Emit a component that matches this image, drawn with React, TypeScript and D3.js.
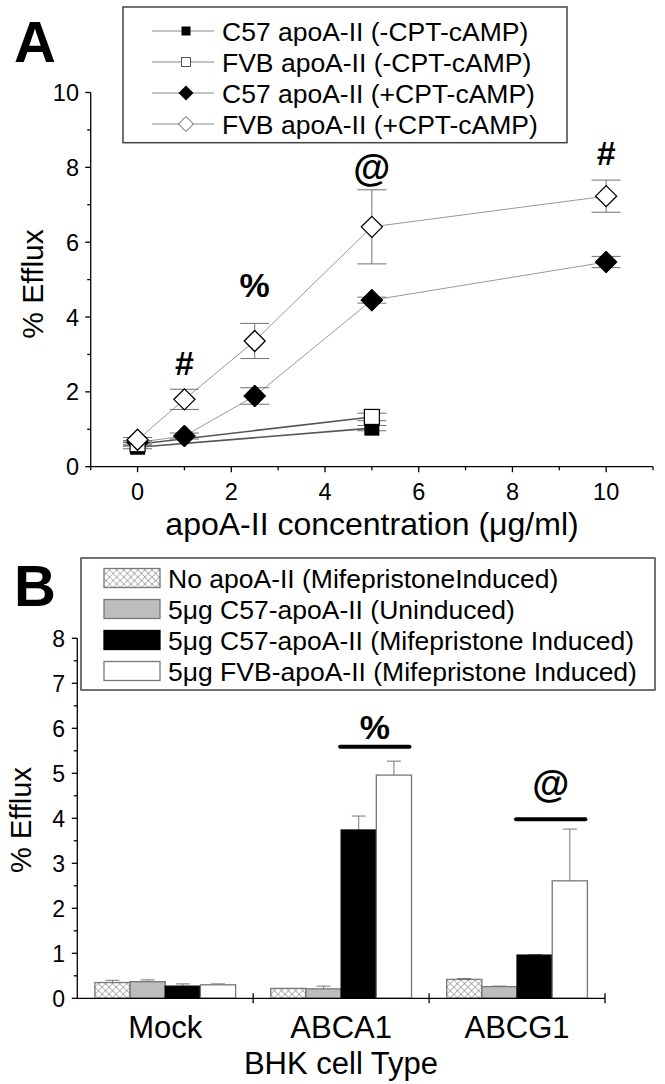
import React, { useEffect } from "react";
import * as d3 from "d3";

// ---------- Panel A data ----------
const concPlus = [0, 1, 2.5, 5, 10];
const c57PlusMean = [0.65, 0.82, 1.89, 4.45, 5.47];
const c57PlusErr = [0.05, 0.08, 0.22, 0.08, 0.15];
const fvbPlusMean = [0.72, 1.8, 3.36, 6.41, 7.23];
const fvbPlusErr = [0.06, 0.27, 0.47, 0.99, 0.43];
const concMinus = [0, 5];
const c57MinusMean = [0.52, 1.03];
const c57MinusErr = [0.04, 0.07];
const fvbMinusMean = [0.6, 1.33];
const fvbMinusErr = [0.05, 0.1];
const legendA = [
  "C57 apoA-II (-CPT-cAMP)",
  "FVB apoA-II (-CPT-cAMP)",
  "C57 apoA-II (+CPT-cAMP)",
  "FVB apoA-II (+CPT-cAMP)",
];
const annotA = ["#", "%", "@", "#"];
const annotAX = [1, 2.5, 5, 10];
const annotAY = [2.77, 4.85, 8.0, 8.4];
const xTicksA = [0, 2, 4, 6, 8, 10];
const yTicksA = [0, 2, 4, 6, 8, 10];

// ---------- Panel B data ----------
const cellTypes = ["Mock", "ABCA1", "ABCG1"];
const seriesB = [
  "No apoA-II (MifepristoneInduced)",
  "5\u03bcg C57-apoA-II (Uninduced)",
  "5\u03bcg C57-apoA-II (Mifepristone Induced)",
  "5\u03bcg FVB-apoA-II (Mifepristone Induced)",
];
const noApoMean = [0.35, 0.22, 0.42];
const noApoErr = [0.05, 0.0, 0.02];
const c57UninMean = [0.37, 0.21, 0.26];
const c57UninErr = [0.04, 0.06, 0.01];
const c57IndMean = [0.27, 3.74, 0.96];
const c57IndErr = [0.05, 0.31, 0.01];
const fvbIndMean = [0.3, 4.96, 2.61];
const fvbIndErr = [0.02, 0.31, 1.15];
const sigCells = ["ABCA1", "ABCG1"];
const sigLabels = ["%", "@"];
const sigLevel = [5.59, 3.98];
const yTicksB = [0, 1, 2, 3, 4, 5, 6, 7, 8];

const FONT = "'Liberation Sans', Arial, Helvetica, sans-serif";

export default function App() {
  useEffect(() => {
    document.body.style.margin = "0";
  }, []);

  // ----- scales A -----
  const xA = d3.scaleLinear().domain([-1, 11]).range([90.7, 653]);
  const yA = d3.scaleLinear().domain([0, 10]).range([466.7, 92.5]);
  const line = d3
    .line<[number, number]>()
    .x((d) => xA(d[0]))
    .y((d) => yA(d[1]));

  const pts = (xs: number[], ys: number[]) =>
    xs.map((x, i) => [x, ys[i]] as [number, number]);

  const diamond = (cx: number, cy: number, r: number) =>
    `M${cx},${cy - r}L${cx + r},${cy}L${cx},${cy + r}L${cx - r},${cy}Z`;

  const errA = (xs: number[], ys: number[], es: number[], key: string) =>
    xs.map((x, i) => {
      const px = xA(x);
      const t = yA(ys[i] + es[i]);
      const b = yA(ys[i] - es[i]);
      return (
        <g key={key + i} stroke="#707070" strokeWidth={1}>
          <line x1={px} x2={px} y1={t} y2={b} />
          <line x1={px - 14.5} x2={px + 14.5} y1={t} y2={t} />
          <line x1={px - 14.5} x2={px + 14.5} y1={b} y2={b} />
        </g>
      );
    });

  // ----- scales B -----
  const xB = d3.scaleBand<string>().domain(cellTypes).range([77.3, 605]).paddingInner(0).paddingOuter(0);
  const xInner = d3
    .scaleBand<string>()
    .domain(seriesB)
    .range([0, xB.bandwidth()])
    .paddingInner(0)
    .paddingOuter(0.5);
  const yB = d3.scaleLinear().domain([0, 8]).range([998.3, 638.3]);
  const meansB = [noApoMean, c57UninMean, c57IndMean, fvbIndMean];
  const errsB = [noApoErr, c57UninErr, c57IndErr, fvbIndErr];
  const fillsB = ["url(#hatch)", "#bdbdbd", "#000", "#fff"];
  const strokesB = ["#777", "#777", "#000", "#777"];

  return (
    <div style={{ position: "absolute", left: 0, top: 0 }}>
      <svg width={665} height={1084} style={{ display: "block", background: "#fff" }} fontFamily={FONT}>
        <defs>
          <pattern id="hatch" width="5" height="5" patternUnits="userSpaceOnUse" patternTransform="rotate(45)">
            <rect width="5" height="5" fill="#fff" />
            <line x1="0" y1="0" x2="5" y2="0" stroke="#666" strokeWidth="0.9" />
            <line x1="0" y1="0" x2="0" y2="5" stroke="#666" strokeWidth="0.9" />
          </pattern>
        </defs>
        <rect width={665} height={1084} fill="#fff" />

        {/* ================= PANEL A ================= */}
        <text x={14} y={62} fontSize={58} fontWeight="bold">A</text>

        {/* axes */}
        <g stroke="#000" strokeWidth={1.3} fill="none">
          <line x1={xA(-1)} x2={xA(11)} y1={yA(0)} y2={yA(0)} />
          <line x1={xA(-1)} x2={xA(-1)} y1={yA(0)} y2={yA(10)} />
          {xA.ticks(12).map((t) => (
            <line key={"xa" + t} x1={xA(t)} x2={xA(t)} y1={yA(0)} y2={yA(0) + (t % 2 === 0 ? 5.5 : 3.5)} />
          ))}
          {yA.ticks(10).map((t) => (
            <line key={"ya" + t} x1={xA(-1)} x2={xA(-1) - (t % 2 === 0 ? 5.5 : 3.5)} y1={yA(t)} y2={yA(t)} />
          ))}
        </g>
        <g fontSize={23.5} fill="#000">
          {xTicksA.map((t) => (
            <text key={"xl" + t} x={xA(t)} y={500} textAnchor="middle">{t}</text>
          ))}
          {yTicksA.map((t) => (
            <text key={"yl" + t} x={79} y={yA(t) + 8.5} textAnchor="end">{t}</text>
          ))}
        </g>
        <text x={372} y={535} fontSize={32} textAnchor="middle">
          apoA-II concentration ({"\u03bc"}g/ml)
        </text>
        <text transform="translate(43,284) rotate(-90)" fontSize={30} textAnchor="middle">% Efflux</text>

        {/* lines */}
        <path d={line(pts(concPlus, fvbPlusMean)) || ""} fill="none" stroke="#999" strokeWidth={1} />
        <path d={line(pts(concPlus, c57PlusMean)) || ""} fill="none" stroke="#999" strokeWidth={1} />
        <path d={line(pts(concMinus, fvbMinusMean)) || ""} fill="none" stroke="#555" strokeWidth={1.6} />
        <path d={line(pts(concMinus, c57MinusMean)) || ""} fill="none" stroke="#555" strokeWidth={1.6} />

        {/* error bars */}
        {errA(concPlus, c57PlusMean, c57PlusErr, "ec")}
        {errA(concPlus, fvbPlusMean, fvbPlusErr, "ef")}
        {errA(concMinus, c57MinusMean, c57MinusErr, "emc")}
        {errA(concMinus, fvbMinusMean, fvbMinusErr, "emf")}

        {/* markers */}
        {concPlus.map((x, i) => (
          <path key={"mc" + i} d={diamond(xA(x), yA(c57PlusMean[i]), 11)} fill="#000" stroke="#000" strokeWidth={1} />
        ))}
        {concMinus.map((x, i) => (
          <rect key={"msc" + i} x={xA(x) - 7.5} y={yA(c57MinusMean[i]) - 7.5} width={15} height={15} fill="#000" />
        ))}
        {concMinus.map((x, i) => (
          <rect key={"msf" + i} x={xA(x) - 7.5} y={yA(fvbMinusMean[i]) - 7.5} width={15} height={15} fill="#fff" stroke="#000" strokeWidth={1.2} />
        ))}
        {concPlus.map((x, i) => (
          <path key={"mf" + i} d={diamond(xA(x), yA(fvbPlusMean[i]), 10.5)} fill="#fff" stroke="#000" strokeWidth={1.3} />
        ))}

        {/* annotations */}
        {annotA.map((s, i) => (
          <text key={"an" + i} x={xA(annotAX[i])} y={yA(annotAY[i])} dy="0.36em" fontSize={s === "@" ? 38 : 34} fontWeight="bold" textAnchor="middle">
            {s}
          </text>
        ))}

        {/* legend A */}
        <rect x={123} y={7} width={444} height={135.7} fill="#fff" stroke="#444" strokeWidth={1.5} />
        {legendA.map((s, i) => {
          const cy = 31 + i * 31;
          const cx = 186;
          return (
            <g key={"la" + i}>
              <line x1={152} x2={214} y1={cy} y2={cy} stroke="#888" strokeWidth={1} />
              {i === 0 && <rect x={cx - 4.5} y={cy - 4.5} width={9} height={9} fill="#000" />}
              {i === 1 && <rect x={cx - 4.5} y={cy - 4.5} width={9} height={9} fill="#fff" stroke="#555" strokeWidth={1} />}
              {i === 2 && <path d={diamond(cx, cy, 7.5)} fill="#000" />}
              {i === 3 && <path d={diamond(cx, cy, 7.5)} fill="#fff" stroke="#555" strokeWidth={1} />}
              <text x={222} y={cy + 9.5} fontSize={26.5}>{s}</text>
            </g>
          );
        })}

        {/* ================= PANEL B ================= */}
        <text x={14} y={606} fontSize={58} fontWeight="bold">B</text>

        {/* bars */}
        {cellTypes.map((c, ci) => (
          <g key={"bg" + c} transform={`translate(${xB(c)},0)`}>
            {seriesB.map((s, si) => {
              const v = meansB[si][ci];
              const e = errsB[si][ci];
              const bx = xInner(s) as number;
              const bw = xInner.bandwidth();
              return (
                <g key={"b" + si}>
                  {e > 0 && (
                    <g stroke="#777" strokeWidth={1}>
                      <line x1={bx + bw / 2} x2={bx + bw / 2} y1={yB(v)} y2={yB(v + e)} />
                      <line x1={bx + bw / 2 - 7} x2={bx + bw / 2 + 7} y1={yB(v + e)} y2={yB(v + e)} />
                    </g>
                  )}
                  <rect x={bx} y={yB(v)} width={bw} height={yB(0) - yB(v)} fill={fillsB[si]} stroke={strokesB[si]} strokeWidth={1.3} />
                </g>
              );
            })}
          </g>
        ))}

        {/* significance */}
        {sigCells.map((c, i) => {
          const gx = xB(c) as number;
          const x1 = gx + (xInner(seriesB[2]) as number) - 1;
          const x2 = gx + (xInner(seriesB[3]) as number) + xInner.bandwidth() - 2;
          const y = yB(sigLevel[i]);
          return (
            <g key={"sig" + c}>
              <line x1={x1} x2={x2} y1={y} y2={y} stroke="#000" strokeWidth={4} strokeLinecap="round" />
              <text x={(x1 + x2) / 2} y={y - (sigLabels[i] === "@" ? 22 : 8)} fontSize={sigLabels[i] === "@" ? 38 : 34} fontWeight="bold" textAnchor="middle">
                {sigLabels[i]}
              </text>
            </g>
          );
        })}

        {/* axes B */}
        <g stroke="#000" strokeWidth={1.3} fill="none">
          <line x1={77.3} x2={605} y1={yB(0)} y2={yB(0)} />
          <line x1={77.3} x2={77.3} y1={yB(0)} y2={yB(8)} />
          {d3.range(0, 8.01, 0.5).map((t) => (
            <line key={"yb" + t} x1={77.3} x2={77.3 - (t % 1 === 0 ? 5.5 : 3.5)} y1={yB(t)} y2={yB(t)} />
          ))}
          {cellTypes.map((c) => (
            <line key={"xbt" + c} x1={(xB(c) as number) + xB.bandwidth()} x2={(xB(c) as number) + xB.bandwidth()} y1={yB(0) - 5} y2={yB(0) + 5} />
          ))}
        </g>
        <g fontSize={23}>
          {yTicksB.map((t) => (
            <text key={"ybl" + t} x={65} y={yB(t) + 8.5} textAnchor="end">{t}</text>
          ))}
        </g>
        <g fontSize={31}>
          {cellTypes.map((c) => (
            <text key={"xbl" + c} x={(xB(c) as number) + xB.bandwidth() / 2} y={1038} textAnchor="middle">{c}</text>
          ))}
        </g>
        <text x={341} y={1074} fontSize={31} textAnchor="middle">BHK cell Type</text>
        <text transform="translate(31,820) rotate(-90)" fontSize={29} textAnchor="middle">% Efflux</text>

        {/* legend B */}
        <rect x={81} y={558} width={574} height={132} fill="#fff" stroke="#444" strokeWidth={1.5} />
        {seriesB.map((s, i) => {
          const cy = 578 + i * 31;
          return (
            <g key={"lb" + i}>
              <rect x={104} y={cy - 9.5} width={56} height={19} fill={fillsB[i]} stroke={strokesB[i]} strokeWidth={1.3} />
              <text x={168} y={cy + 9.5} fontSize={26.5}>{s}</text>
            </g>
          );
        })}
      </svg>
    </div>
  );
}
